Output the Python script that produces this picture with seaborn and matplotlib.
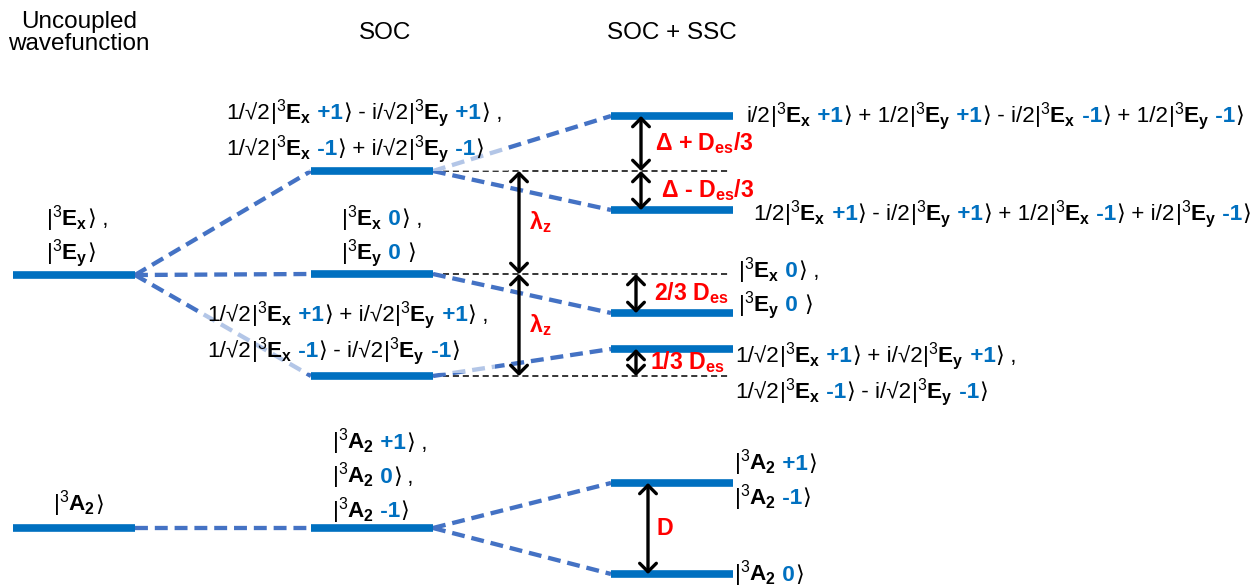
import re
import pandas as pd
import seaborn as sns
import matplotlib.pyplot as plt
from matplotlib.offsetbox import TextArea, HPacker, VPacker, AnnotationBbox

# Energy levels (arbitrary units) per column of the diagram
columns = ['Uncoupled\nwavefunction', 'SOC', 'SOC + SSC']
uncoupled_E = [3.12, 0.59]
soc_E = [4.16, 3.13, 2.11, 0.59]
ssc_E = [4.71, 3.77, 2.74, 2.38, 1.04, 0.13]
levels = [uncoupled_E, soc_E, ssc_E]

# which level splits into which: (col, idx) -> (col, idx)
links = [((0, 0), (1, 0)), ((0, 0), (1, 1)), ((0, 0), (1, 2)), ((0, 1), (1, 3)),
         ((1, 0), (2, 0)), ((1, 0), (2, 1)), ((1, 1), (2, 2)), ((1, 2), (2, 3)),
         ((1, 3), (2, 4)), ((1, 3), (2, 5))]

# state labels, {Ex +1} means |3Ex +1>
uncoupled_labels = [['{Ex} ,', '{Ey}'], ['{A2}']]
soc_labels = [['1/√2{Ex +1} - i/√2{Ey +1} ,', '1/√2{Ex -1} + i/√2{Ey -1}'],
              ['{Ex 0} ,', '{Ey 0 }'],
              ['1/√2{Ex +1} + i/√2{Ey +1} ,', '1/√2{Ex -1} - i/√2{Ey -1}'],
              ['{A2 +1} ,', '{A2 0} ,', '{A2 -1}']]
ssc_labels = [['i/2{Ex +1} + 1/2{Ey +1} - i/2{Ex -1} + 1/2{Ey -1}'],
              ['1/2{Ex +1} - i/2{Ey +1} + 1/2{Ex -1} + i/2{Ey -1}'],
              ['{Ex 0} ,', '{Ey 0 }'],
              ['1/√2{Ex +1} + i/√2{Ey +1} ,', '1/√2{Ex -1} - i/√2{Ey -1}'],
              ['{A2 +1}', '{A2 -1}'],
              ['{A2 0}']]

# splittings: (lower E, upper E, label)
splittings = [(soc_E[1], soc_E[0], r'$\mathbf{\lambda_z}$'),
              (soc_E[2], soc_E[1], r'$\mathbf{\lambda_z}$'),
              (soc_E[0], ssc_E[0], r'Δ + D$\mathbf{_{es}}$/3'),
              (ssc_E[1], soc_E[0], r'Δ - D$\mathbf{_{es}}$/3'),
              (ssc_E[2], soc_E[1], r'2/3 D$\mathbf{_{es}}$'),
              (soc_E[2], ssc_E[3], r'1/3 D$\mathbf{_{es}}$'),
              (ssc_E[5], ssc_E[4], 'D')]

BAR = '#0070C0'
LINK = '#4472C4'
RED = '#FF0000'
FS = 16.2

sns.set_theme(style='white')
plt.rcParams['font.family'] = ['Liberation Sans', 'DejaVu Sans']
plt.rcParams['mathtext.fontset'] = 'custom'
plt.rcParams['mathtext.rm'] = 'Liberation Sans'
plt.rcParams['mathtext.bf'] = 'Liberation Sans:bold'
plt.rcParams['mathtext.it'] = 'Liberation Sans:italic'

fig = plt.figure(figsize=(12.54, 5.87), dpi=100)
ax = fig.add_axes([0, 0, 1, 1])

col_x = [74, 372, 672]
half = 61

# level bars
rows = []
for c, Es in enumerate(levels):
    for i, E in enumerate(Es):
        rows.append({'lev': f'{c}-{i}', 'x': col_x[c] - half, 'E': E})
        rows.append({'lev': f'{c}-{i}', 'x': col_x[c] + half, 'E': E})
df_lev = pd.DataFrame(rows)

rows = []
for k, ((c1, i1), (c2, i2)) in enumerate(links):
    rows.append({'link': k, 'x': col_x[c1] + half, 'E': levels[c1][i1]})
    rows.append({'link': k, 'x': col_x[c2] - half, 'E': levels[c2][i2]})
df_link = pd.DataFrame(rows)

sns.lineplot(data=df_link, x='x', y='E', units='link', estimator=None, ax=ax,
             color=LINK, lw=3.1, linestyle=(0, (3.0, 1.6)), legend=False, zorder=2)
sns.lineplot(data=df_lev, x='x', y='E', units='lev', estimator=None, ax=ax,
             color=BAR, lw=5.5, legend=False, zorder=3, solid_capstyle='butt')

# thin reference lines for SOC levels
ax.hlines(soc_E[:3], col_x[1] + half, 728, colors='black', lw=1.1,
          linestyles=(0, (4, 2.5)), zorder=1)

# arrows
arrow_x = [519, 519, 641, 641, 636, 636, 648]
label_x = [529, 529, 655, 661, 654, 650, 656]
for (lo, hi, txt), ax_, lx in zip(splittings, arrow_x, label_x):
    ax.annotate('', xy=(ax_, hi), xytext=(ax_, lo),
                arrowprops=dict(arrowstyle='<->,head_length=0.3,head_width=0.3',
                                lw=2.4, color='black', shrinkA=0, shrinkB=0,
                                mutation_scale=20), zorder=4)
    ax.text(lx, (lo + hi) / 2, txt, color=RED, fontsize=FS + 0.5, fontweight='bold',
            va='center', ha='left', zorder=5)


def parts_of(line):
    out = []
    pos = 0
    for m in re.finditer(r'\{(\w)(\w)(?: ([^}]*))?\}', line):
        if m.start() > pos:
            out.append((line[pos:m.start()], 'black', 'normal'))
        st, sub, mj = m.group(1), m.group(2), m.group(3)
        out.append((r'$|^{3}\mathbf{%s}_{\mathbf{%s}}$' % (st, sub), 'black', 'normal'))
        if mj is not None:
            out.append((' ' + mj.rstrip(), BAR, 'bold'))
            if mj.endswith(' '):
                out.append((' ', 'black', 'normal'))
        out.append(('⟩', 'black', 'normal'))
        pos = m.end()
    if pos < len(line):
        out.append((line[pos:], 'black', 'normal'))
    return out


def label(x, E, lines, veil=False, pad=0.0):
    rowsbox = []
    for ln in lines:
        kids = [TextArea(s, textprops=dict(color=c, fontweight=w, fontsize=FS))
                for s, c, w in parts_of(ln)]
        rowsbox.append(HPacker(children=kids, align='baseline', pad=0, sep=0))
    box = VPacker(children=rowsbox, align='left', pad=0, sep=2.5)
    # veiled labels sit between the dashed links and the level bars
    ab = AnnotationBbox(box, (x, E), xycoords='data', box_alignment=(0, 0.5),
                        frameon=veil, pad=pad, zorder=2.5 if veil else 5,
                        bboxprops=dict(facecolor='white', alpha=0.6, edgecolor='none'))
    ax.add_artist(ab)


label_pos = {
    (0, 0): (46, 3.51), (0, 1): (53, 0.83),
    (1, 0): (226, 4.56), (1, 1): (341, 3.51), (1, 2): (207, 2.54), (1, 3): (332, 1.11),
    (2, 0): (746, 4.71), (2, 1): (753, 3.73), (2, 2): (738, 2.99),
    (2, 3): (735, 2.13), (2, 4): (734, 1.07), (2, 5): (734, 0.13),
}
all_labels = [uncoupled_labels, soc_labels, ssc_labels]
for c, labs in enumerate(all_labels):
    for i, lines in enumerate(labs):
        x, E = label_pos[(c, i)]
        veil = (c, i) in [(1, 0), (1, 2)]
        label(x, E, lines, veil=veil, pad=0.4 if veil else 0)

# column titles
title_x = [79, 385, 672]
for c, name in enumerate(columns):
    ax.text(title_x[c], 5.54, name, ha='center', va='center',
            fontsize=17.5, color='black', linespacing=1.05)

ax.set_xlim(0, 1254)
ax.set_ylim(0, 5.87)
ax.set_axis_off()

fig.savefig('out.png', dpi=100)
